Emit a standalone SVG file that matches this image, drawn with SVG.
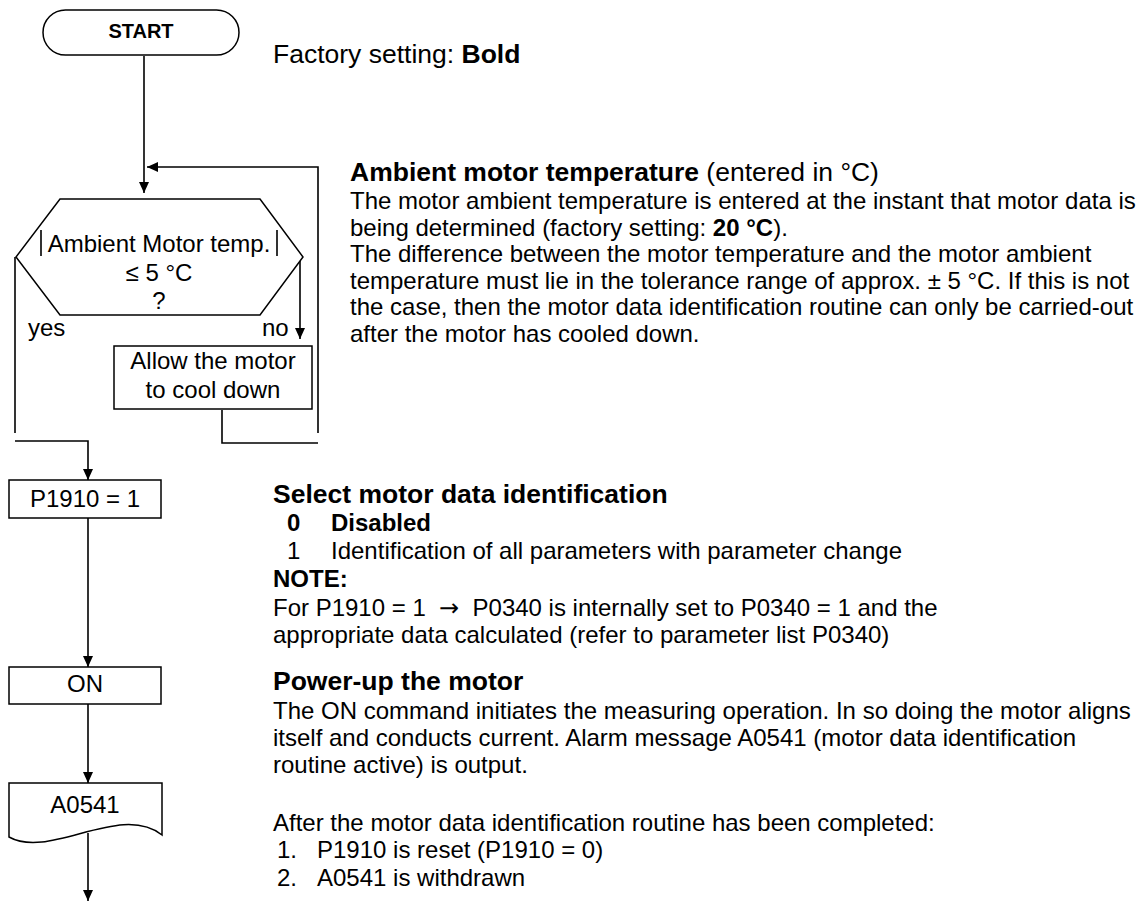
<svg xmlns="http://www.w3.org/2000/svg" width="1140" height="904" viewBox="0 0 1140 904">
<style>
text{font-family:"Liberation Sans",Arial,sans-serif;fill:#000}
.n{font-size:24px}
.c{text-anchor:middle}
.h{font-size:26.5px}
.b{font-weight:bold}
.ar{font-family:"DejaVu Sans",sans-serif}
.sh{fill:#fff;stroke:#000;stroke-width:1.5}
.ln{fill:none;stroke:#000;stroke-width:1.6}
</style>
<defs>
<marker id="ah" markerUnits="userSpaceOnUse" markerWidth="12" markerHeight="10" refX="11" refY="5" orient="auto">
<path d="M0,0 L11,5 L0,10 Z" fill="#000"/>
</marker>
</defs>
<rect width="1140" height="904" fill="#fff"/>
<g id="connectors">
<path class="ln" d="M144,56 V193" marker-end="url(#ah)"/>
<path class="ln" d="M318,433 V167 H147" marker-end="url(#ah)"/>
<path class="ln" d="M300,257 V339" marker-end="url(#ah)"/>
<path class="ln" d="M222,410 V443 H318"/>
<path class="ln" d="M15,257 V433"/>
<path class="ln" d="M15,441 H88 V480" marker-end="url(#ah)"/>
<path class="ln" d="M88,518 V667" marker-end="url(#ah)"/>
<path class="ln" d="M88,704 V783" marker-end="url(#ah)"/>
<path class="ln" d="M88,833 V901" marker-end="url(#ah)"/>
</g>
<g id="start">
<rect class="sh" x="43" y="10" width="196" height="45" rx="22.5" ry="22.5"/>
<text class="c b" x="141" y="38" font-size="20">START</text>
</g>
<g id="decision">
<path class="sh" d="M60,199 H260 L303,257 L260,315 H60 L16,257 Z"/>
<path class="ln" d="M41,230 V256 M277,230 V256" stroke-width="1.3"/>
<text class="n c" x="159" y="252">Ambient Motor temp.</text>
<text class="n c" x="159" y="281">≤ 5 °C</text>
<text class="n c" x="159" y="309">?</text>
<text class="n" x="28" y="336">yes</text>
<text class="n" x="262" y="336">no</text>
</g>
<g id="cooldown">
<rect class="sh" x="114" y="346" width="198" height="63"/>
<text class="n c" x="213" y="369">Allow the motor</text>
<text class="n c" x="213" y="398">to cool down</text>
</g>
<g id="p1910">
<rect class="sh" x="9" y="480" width="152" height="38"/>
<text class="n c" x="85" y="507">P1910 = 1</text>
</g>
<g id="on">
<rect class="sh" x="9" y="667" width="152" height="37"/>
<text class="n c" x="85" y="692">ON</text>
</g>
<g id="a0541">
<path class="sh" d="M9,783 H162 V835 C120,802 50,860 9,837 Z"/>
<text class="n c" x="85" y="813">A0541</text>
</g>
<g id="notes">
<text class="h" x="273" y="63">Factory setting: <tspan class="b">Bold</tspan></text>
<text class="h" x="350" y="181"><tspan class="b">Ambient motor temperature</tspan> (entered in °C)</text>
<text class="n" x="350" y="209">The motor ambient temperature is entered at the instant that motor data is</text>
<text class="n" x="350" y="236">being determined (factory setting: <tspan class="b">20 °C</tspan>).</text>
<text class="n" x="350" y="262">The difference between the motor temperature and the motor ambient</text>
<text class="n" x="350" y="289">temperature must lie in the tolerance range of approx. ± 5 °C. If this is not</text>
<text class="n" x="350" y="315">the case, then the motor data identification routine can only be carried-out</text>
<text class="n" x="350" y="342">after the motor has cooled down.</text>
<text class="h b" x="273" y="503">Select motor data identification</text>
<text class="n b" x="287" y="531">0</text>
<text class="n b" x="331" y="531">Disabled</text>
<text class="n" x="287" y="559">1</text>
<text class="n" x="331" y="559">Identification of all parameters with parameter change</text>
<text class="n b" x="273" y="587">NOTE:</text>
<text class="n" x="273" y="616" xml:space="preserve">For P1910 = 1  <tspan class="ar">→</tspan>  P0340 is internally set to P0340 = 1 and the</text>
<text class="n" x="273" y="643">appropriate data calculated (refer to parameter list P0340)</text>
<text class="h b" x="273" y="690">Power-up the motor</text>
<text class="n" x="273" y="719">The ON command initiates the measuring operation. In so doing the motor aligns</text>
<text class="n" x="273" y="746">itself and conducts current. Alarm message A0541 (motor data identification</text>
<text class="n" x="273" y="773">routine active) is output.</text>
<text class="n" x="273" y="831">After the motor data identification routine has been completed:</text>
<text class="n" x="277" y="858">1.</text>
<text class="n" x="317" y="858">P1910 is reset (P1910 = 0)</text>
<text class="n" x="277" y="886">2.</text>
<text class="n" x="317" y="886">A0541 is withdrawn</text>
</g>
</svg>
